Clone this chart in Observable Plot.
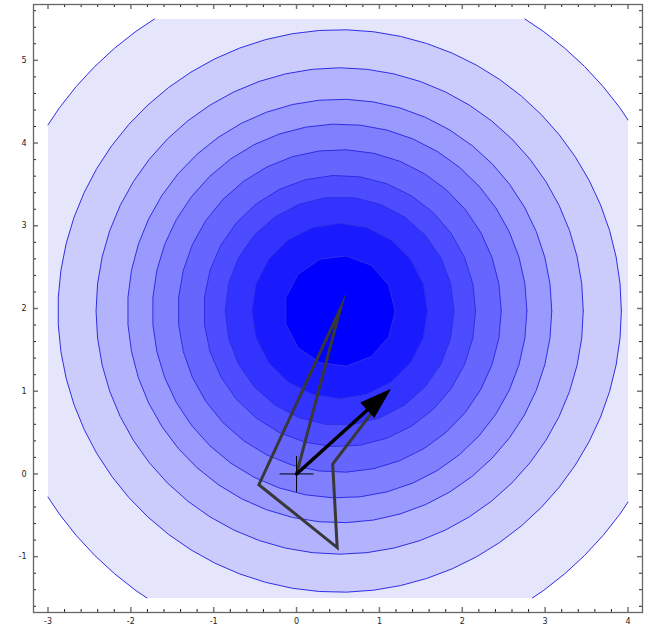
<!DOCTYPE html>
<html><head><meta charset="utf-8">
<script src="https://cdn.jsdelivr.net/npm/d3@7"></script>
<script src="https://cdn.jsdelivr.net/npm/@observablehq/plot@0.6"></script>
<style>html,body{margin:0;padding:0;background:#fff}</style>
</head><body><div id="chart"></div>
<script>
// ---- data ----
const contourRadii = [4.18, 3.40, 2.94, 2.56, 2.26, 1.95, 1.64, 1.38, 1.06, 0.67];
const bandColors = ["#e5e5fb", "#ccccfc", "#b3b3fd", "#9999fe", "#8080fe", "#6666fe", "#4d4dff", "#3333ff", "#1a1aff", "#0000ff"];
const contourCenter = [0.52, 1.97];
const regionX = [-3, 4];
const regionY = [-1.5, 5.5];
const pathX = [0, 0.53, -0.455, 0.49, 0.436, 0.9];
const pathY = [0, 2.0, -0.13, -0.89, 0.12, 0.73];
const arrowFrom = [0, 0];
const arrowTo = [1.14, 1.03];
const xTickLabels = [-3, -2, -1, 0, 1, 2, 3, 4];
const yTickLabels = [-1, 0, 1, 2, 3, 4, 5];
const xDomain = [-3.175, 4.175];
const yDomain = [-1.675, 5.675];

// ---- layout ----
const W = 651, H = 631, mL = 33, mR = 9, mT = 4, mB = 19;
const pw = W - mL - mR, ph = H - mT - mB;
const kx = pw / (xDomain[1] - xDomain[0]), ky = ph / (yDomain[1] - yDomain[0]);

function ring(r) {
  const n = Math.max(12, Math.round(2 * Math.PI * r / 0.33));
  const pts = [];
  for (let i = 0; i < n; i++) {
    const a = 2 * Math.PI * i / n;
    pts.push([contourCenter[0] + r * Math.cos(a), contourCenter[1] + r * Math.sin(a)]);
  }
  return pts;
}
const interX = (a, b, x0) => { const t = (x0 - a[0]) / (b[0] - a[0]); return [x0, a[1] + t * (b[1] - a[1])]; };
const interY = (a, b, y0) => { const t = (y0 - a[1]) / (b[1] - a[1]); return [a[0] + t * (b[0] - a[0]), y0]; };
const clipEdges = [
  [p => p[0] >= regionX[0], (a, b) => interX(a, b, regionX[0])],
  [p => p[0] <= regionX[1], (a, b) => interX(a, b, regionX[1])],
  [p => p[1] >= regionY[0], (a, b) => interY(a, b, regionY[0])],
  [p => p[1] <= regionY[1], (a, b) => interY(a, b, regionY[1])]
];
function clipPoly(pts) {
  let out = pts;
  for (const [inside, inter] of clipEdges) {
    const input = out; out = [];
    for (let i = 0; i < input.length; i++) {
      const cur = input[i], prev = input[(i + input.length - 1) % input.length];
      if (inside(cur)) { if (!inside(prev)) out.push(inter(prev, cur)); out.push(cur); }
      else if (inside(prev)) out.push(inter(prev, cur));
    }
  }
  return out;
}
const isIn = p => clipEdges.every(([f]) => f(p));
function clipSeg(a, b) { // a inside, b outside -> point on boundary
  let t = 1;
  const dx = b[0] - a[0], dy = b[1] - a[1];
  if (b[0] < regionX[0]) t = Math.min(t, (regionX[0] - a[0]) / dx);
  if (b[0] > regionX[1]) t = Math.min(t, (regionX[1] - a[0]) / dx);
  if (b[1] < regionY[0]) t = Math.min(t, (regionY[0] - a[1]) / dy);
  if (b[1] > regionY[1]) t = Math.min(t, (regionY[1] - a[1]) / dy);
  return [a[0] + t * dx, a[1] + t * dy];
}
function strokePoints(r, level) {
  const pts = ring(r); pts.push(pts[0]);
  const out = [];
  for (let i = 0; i < pts.length - 1; i++) {
    const a = pts[i], b = pts[i + 1], ia = isIn(a), ib = isIn(b);
    if (ia && ib) out.push({x: a[0], y: a[1], level});
    else if (ia && !ib) { out.push({x: a[0], y: a[1], level}); const c = clipSeg(a, b); out.push({x: c[0], y: c[1], level}); out.push({x: NaN, y: NaN, level}); }
    else if (!ia && ib) { const c = clipSeg(b, a); out.push({x: c[0], y: c[1], level}); }
  }
  const last = pts[pts.length - 1];
  if (isIn(last)) out.push({x: last[0], y: last[1], level});
  return out;
}

const fillMarks = contourRadii.map((r, i) =>
  Plot.line(clipPoly(ring(r)).map(p => ({x: p[0], y: p[1]})), {x: "x", y: "y", fill: bandColors[i], stroke: "none"})
);
const strokeData = contourRadii.flatMap((r, i) => strokePoints(r, i));

const pathData = pathX.map((x, i) => ({x, y: pathY[i]}));

const theta = Math.atan2((arrowTo[0] - arrowFrom[0]) * kx, (arrowTo[1] - arrowFrom[1]) * ky);
const headSym = {
  draw(ctx) {
    const c = Math.cos(theta), s = Math.sin(theta);
    const rot = (px, py) => [px * c - py * s, px * s + py * c];
    const p0 = rot(0, 0), p1 = rot(-10.5, 32), p2 = rot(10.5, 32);
    ctx.moveTo(p0[0], p0[1]); ctx.lineTo(p1[0], p1[1]); ctx.lineTo(p2[0], p2[1]); ctx.closePath();
  }
};
const crossSym = {
  draw(ctx) { ctx.moveTo(-17, 0); ctx.lineTo(17, 0); ctx.moveTo(0, -18); ctx.lineTo(0, 18); }
};

const minorX = d3.range(-15, 21).map(v => Math.round(v * 2) / 10).filter(v => !Number.isInteger(v));
const minorY = d3.range(-8, 29).map(v => Math.round(v * 2) / 10).filter(v => !Number.isInteger(v));

const chart = Plot.plot({
  width: W, height: H,
  marginLeft: mL, marginRight: mR, marginTop: mT, marginBottom: mB,
  x: {domain: xDomain},
  y: {domain: yDomain},
  style: {background: "white", fontFamily: "DejaVu Sans", fontSize: "8px", color: "#222"},
  marks: [
    ...fillMarks,
    Plot.line(strokeData, {x: "x", y: "y", z: "level", stroke: "#2e2ee4", strokeWidth: 1}),
    Plot.line(pathData, {x: "x", y: "y", stroke: "#383838", strokeWidth: 3, strokeLinejoin: "miter", strokeMiterlimit: 12}),
    Plot.arrow([{x1: arrowFrom[0], y1: arrowFrom[1], x2: arrowTo[0], y2: arrowTo[1]}],
      {x1: "x1", y1: "y1", x2: "x2", y2: "y2", stroke: "black", strokeWidth: 3.5, headLength: 0, insetEnd: 24}),
    Plot.dot([arrowTo], {x: d => d[0], y: d => d[1], symbol: headSym, fill: "black", stroke: "none", r: 10}),
    Plot.dot([arrowFrom], {x: d => d[0], y: d => d[1], symbol: crossSym, fill: "none", stroke: "black", strokeWidth: 1, r: 10}),
    // minor ticks on all four sides
    Plot.tickX(minorX, {x: d => d, insetTop: ph - 3, stroke: "#222"}),
    Plot.tickX(minorX, {x: d => d, insetBottom: ph - 3, stroke: "#222"}),
    Plot.tickY(minorY, {y: d => d, insetRight: pw - 3, stroke: "#222"}),
    Plot.tickY(minorY, {y: d => d, insetLeft: pw - 3, stroke: "#222"}),
    // major ticks
    Plot.tickX(xTickLabels, {x: d => d, insetTop: ph - 5, stroke: "#777", strokeWidth: 1.5}),
    Plot.tickX(xTickLabels, {x: d => d, insetBottom: ph - 5, stroke: "#777", strokeWidth: 1.5}),
    Plot.tickY(yTickLabels, {y: d => d, insetRight: pw - 5, stroke: "#777", strokeWidth: 1.5}),
    Plot.tickY(yTickLabels, {y: d => d, insetLeft: pw - 5, stroke: "#777", strokeWidth: 1.5}),
    Plot.frame({stroke: "#666", strokeWidth: 1.3}),
    Plot.axisX(xTickLabels, {anchor: "bottom", tickSize: 0, tickPadding: 6, tickFormat: d => String(d), label: null, fontSize: 8}),
    Plot.axisY(yTickLabels, {anchor: "left", tickSize: 0, tickPadding: 7, tickFormat: d => String(d), label: null, fontSize: 8})
  ]
});
document.getElementById("chart").appendChild(chart);
</script>
</body></html>
